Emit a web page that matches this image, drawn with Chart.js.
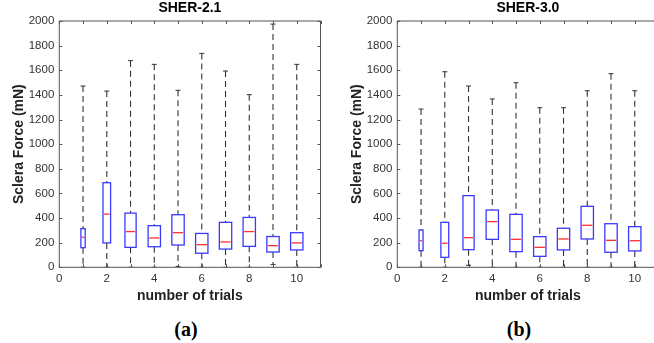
<!DOCTYPE html>
<html>
<head>
<meta charset="utf-8">
<script src="https://cdn.jsdelivr.net/npm/chart.js@4.4.1/dist/chart.umd.min.js"></script>
<style>
    body { margin: 0; width: 654px; height: 343px; overflow: hidden; background: #fff; position: relative; }
    .panel { position: absolute; top: 0; width: 327px; height: 310px; }
    .caption { position: absolute; top: 318px; width: 60px; text-align: center;
        font: bold 20px "Liberation Serif", "DejaVu Serif", serif; color: #000; }
</style>
</head>
<body>
<div class="panel" style="left:0px"><canvas id="chart-a" width="327" height="310"></canvas></div>
<div class="panel" style="left:338px"><canvas id="chart-b" width="327" height="310"></canvas></div>
<div class="caption" style="left:156px">(a)</div>
<div class="caption" style="left:489px">(b)</div>

<script>
// data (mN)
const trials = [1, 2, 3, 4, 5, 6, 7, 8, 9, 10];
const yTicks = [0, 200, 400, 600, 800, 1000, 1200, 1400, 1600, 1800, 2000];
const xTickLabels = ["0", "2", "4", "6", "8", "10"];

const sher21Max = [1472, 1431, 1678, 1648, 1437, 1737, 1594, 1402, 1975, 1648];
const sher21Q3 = [314, 687, 440, 338, 427, 275, 365, 405, 250, 281];
const sher21Median = [244, 432, 290, 238, 281, 184, 206, 290, 176, 198];
const sher21Q1 = [159, 198, 162, 167, 181, 114, 148, 170, 124, 141];
const sher21Min = [0, 0, 0, 0, 5, 0, 0, 0, 22, 0];

const sher30Max = [1285, 1588, 1472, 1367, 1499, 1296, 1296, 1434, 1572, 1434];
const sher30Q3 = [303, 365, 582, 465, 430, 249, 317, 495, 354, 330];
const sher30Median = [216, 195, 241, 371, 227, 162, 230, 341, 219, 216];
const sher30Q1 = [135, 81, 143, 227, 127, 89, 141, 230, 122, 133];
const sher30Min = [0, 0, 16, 0, 0, 0, 0, 0, 0, 0];

// lebar kotak (satuan sumbu x), cuma gaya
const widthsA = [0.18, 0.32, 0.47, 0.52, 0.52, 0.52, 0.52, 0.52, 0.52, 0.52];
const widthsB = [0.17, 0.33, 0.47, 0.52, 0.52, 0.52, 0.52, 0.52, 0.52, 0.52];

const axisColor = "#555";
const textColor = "#333";
const fontFamily = "Liberation Sans, Arial, sans-serif";

// kotak + median digambar pakai skala chart
const boxPlugin = {
    id: "boxes",
    afterDatasetsDraw(chart, args, opts) {
        const { ctx, scales: { x, y } } = chart;
        ctx.save();
        opts.q1.forEach((q1, i) => {
            const t = trials[i];
            const w = opts.widths[i] / 2;
            const left = x.getPixelForValue(t - w);
            const right = x.getPixelForValue(t + w);
            const top = y.getPixelForValue(opts.q3[i]);
            const bottom = y.getPixelForValue(q1);
            ctx.strokeStyle = "#3a3aff";
            ctx.lineWidth = 1.3;
            ctx.strokeRect(left, top, right - left, bottom - top);
            const m = y.getPixelForValue(opts.median[i]);
            ctx.strokeStyle = "#ff3030";
            ctx.beginPath();
            ctx.moveTo(left + 1, m);
            ctx.lineTo(right - 1, m);
            ctx.stroke();
        });
        ctx.restore();
    },
};

// bingkai ala matlab, tick ke dalam di keempat sisi
const framePlugin = {
    id: "frame",
    afterDraw(chart) {
        const { ctx, chartArea: a, scales: { x, y } } = chart;
        ctx.save();
        ctx.strokeStyle = axisColor;
        ctx.lineWidth = 1;
        ctx.strokeRect(a.left, a.top, a.right - a.left, a.bottom - a.top);
        ctx.beginPath();
        x.ticks.forEach((t) => {
            const px = Math.round(x.getPixelForValue(t.value)) + 0.5;
            ctx.moveTo(px, a.bottom); ctx.lineTo(px, a.bottom - 3);
            ctx.moveTo(px, a.top); ctx.lineTo(px, a.top + 3);
        });
        y.ticks.forEach((t) => {
            const py = Math.round(y.getPixelForValue(t.value)) + 0.5;
            ctx.moveTo(a.left, py); ctx.lineTo(a.left + 3, py);
            ctx.moveTo(a.right, py); ctx.lineTo(a.right - 3, py);
        });
        ctx.stroke();
        ctx.restore();
    },
};

function makeBoxChart(canvasId, title, maxs, q3s, medians, q1s, mins, widths) {
    const whiskers = [];
    const caps = [];
    trials.forEach((t, i) => {
        whiskers.push({ x: t, y: maxs[i] }, { x: t, y: q3s[i] }, { x: t, y: null });
        whiskers.push({ x: t, y: q1s[i] }, { x: t, y: mins[i] }, { x: t, y: null });
        caps.push({ x: t, y: maxs[i] }, { x: t, y: mins[i] });
    });

    const ctx = document.getElementById(canvasId).getContext("2d");
    return new Chart(ctx, {
        type: "scatter",
        data: {
            datasets: [
                {
                    label: "whisker",
                    data: whiskers,
                    showLine: true,
                    spanGaps: false,
                    borderColor: "#333",
                    borderWidth: 1.1,
                    borderDash: [6, 4],
                    pointRadius: 0,
                },
                {
                    label: "cap",
                    data: caps,
                    showLine: false,
                    pointStyle: "line",
                    pointRadius: 2.5,
                    pointBorderColor: "#333",
                    pointBorderWidth: 1,
                },
            ],
        },
        options: {
            responsive: false,
            animation: false,
            layout: { padding: { left: 0, right: 6.5, top: 0, bottom: 0 } },
            plugins: {
                legend: { display: false },
                tooltip: { enabled: false },
                title: {
                    display: true,
                    text: title,
                    fullSize: false,
                    color: "#000",
                    font: { family: fontFamily, size: 14, weight: "bold", lineHeight: 1.1 },
                    padding: { top: 0, bottom: 5.6 },
                },
                boxes: { q1: q1s, q3: q3s, median: medians, widths: widths },
            },
            scales: {
                x: {
                    type: "linear",
                    min: 0,
                    max: 11,
                    grid: { display: false, drawTicks: false },
                    border: { display: false },
                    afterFit(scale) { scale.height = 42.7; },
                    ticks: {
                        stepSize: 1,
                        autoSkip: false,
                        maxRotation: 0,
                        padding: 5,
                        color: textColor,
                        font: { family: fontFamily, size: 11.5 },
                        callback: (v) => (xTickLabels.includes(String(v)) ? String(v) : ""),
                    },
                    title: {
                        display: true,
                        text: "number of trials",
                        color: "#222",
                        font: { family: fontFamily, size: 14, weight: "bold" },
                        padding: { top: 0, bottom: 5.6 },
                    },
                },
                y: {
                    min: 0,
                    max: 2000,
                    grid: { display: false, drawTicks: false },
                    border: { display: false },
                    afterFit(scale) { scale.width = 59.3; },
                    afterBuildTicks(scale) { scale.ticks = yTicks.map((v) => ({ value: v })); },
                    ticks: {
                        padding: 5,
                        color: textColor,
                        font: { family: fontFamily, size: 11.5 },
                        callback: (v) => String(v),
                    },
                    title: {
                        display: true,
                        text: "Sclera Force (mN)",
                        color: "#222",
                        font: { family: fontFamily, size: 14, weight: "bold" },
                        padding: { top: 10.6, bottom: 0 },
                    },
                },
            },
        },
        plugins: [boxPlugin, framePlugin],
    });
}

document.addEventListener("DOMContentLoaded", function () {
    makeBoxChart("chart-a", "SHER-2.1", sher21Max, sher21Q3, sher21Median, sher21Q1, sher21Min, widthsA);
    makeBoxChart("chart-b", "SHER-3.0", sher30Max, sher30Q3, sher30Median, sher30Q1, sher30Min, widthsB);
});
</script>
</body>
</html>
